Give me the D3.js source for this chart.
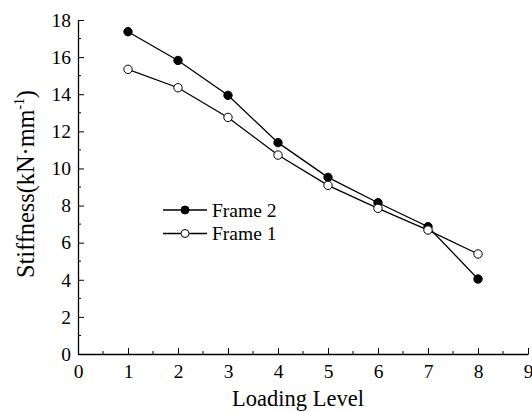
<!DOCTYPE html>
<html>
<head>
<meta charset="utf-8">
<script src="https://cdn.jsdelivr.net/npm/d3@7"></script>
<style>
  html, body { margin: 0; padding: 0; background: #fff; }
  svg { display: block; }
  text { font-family: "Liberation Serif", "Times New Roman", serif; fill: #000; }
</style>
</head>
<body>
<svg id="chart" width="532" height="412"></svg>
<script>
// Loading levels and stiffness values (kN·mm^-1)
const levels = [1, 2, 3, 4, 5, 6, 7, 8];
const frame2 = [17.37, 15.82, 13.94, 11.39, 9.52, 8.15, 6.86, 4.04];
const frame1 = [15.34, 14.35, 12.75, 10.72, 9.09, 7.85, 6.68, 5.39];
const xTicks = [0, 1, 2, 3, 4, 5, 6, 7, 8, 9];
const yTicks = [0, 2, 4, 6, 8, 10, 12, 14, 16, 18];
const seriesNames = ["Frame 2", "Frame 1"];

const svg = d3.select("#chart");
const plotLeft = 78, plotRight = 528, plotTop = 20, plotBottom = 354;

const x = d3.scaleLinear().domain([0, 9]).range([plotLeft, plotRight]);
const y = d3.scaleLinear().domain([0, 18]).range([plotBottom, plotTop]);

// Axes with inward ticks
const xAxis = d3.axisBottom(x).tickValues(xTicks).tickSize(-6).tickPadding(10).tickSizeOuter(0);
const yAxis = d3.axisLeft(y).tickValues(yTicks).tickSize(-6).tickPadding(7).tickSizeOuter(0);

const gx = svg.append("g").attr("transform", `translate(0,${plotBottom})`).call(xAxis);
const gy = svg.append("g").attr("transform", `translate(${plotLeft},0)`).call(yAxis);

// minor ticks
const xMinor = d3.range(0.5, 9, 1);
const yMinor = d3.range(1, 18, 2);
svg.append("g").selectAll("line").data(xMinor).join("line")
  .attr("x1", d => x(d)).attr("x2", d => x(d))
  .attr("y1", plotBottom).attr("y2", plotBottom - 3)
  .attr("stroke", "#000").attr("stroke-width", 1);
svg.append("g").selectAll("line").data(yMinor).join("line")
  .attr("x1", plotLeft).attr("x2", plotLeft + 3)
  .attr("y1", d => y(d)).attr("y2", d => y(d))
  .attr("stroke", "#000").attr("stroke-width", 1);

[gx, gy].forEach(g => {
  g.attr("font-family", null);
  g.select(".domain").attr("stroke", "#000").attr("stroke-width", 1.3);
  g.selectAll(".tick line").attr("stroke", "#000").attr("stroke-width", 1);
  g.selectAll(".tick text")
    .style("font-family", "'Liberation Serif', serif")
    .style("font-size", "19.5px").attr("fill", "#000");
});

// Axis titles
svg.append("text")
  .attr("x", 298).attr("y", 406)
  .attr("text-anchor", "middle")
  .style("font-size", "22.5px")
  .text("Loading Level");

const yt = svg.append("text")
  .attr("text-anchor", "middle")
  .style("font-size", "25px");
yt.append("tspan").text("Stiffness(kN·mm");
yt.append("tspan").attr("dy", -10).style("font-size", "14px").text("-1");
yt.append("tspan").attr("dy", 10).text(")");
// fit the rotated title to the axis span
const ytLen = yt.node().getComputedTextLength();
const ytScale = 188 / ytLen;
yt.attr("transform", `translate(34,184) rotate(-90) scale(${ytScale},1)`);

// Series
const line = d3.line().x((d, i) => x(levels[i])).y(d => y(d));
const series = [
  { name: seriesNames[0], values: frame2, fill: "#000" },
  { name: seriesNames[1], values: frame1, fill: "#fff" }
];

series.forEach(s => {
  svg.append("path").datum(s.values)
    .attr("d", line).attr("fill", "none")
    .attr("stroke", "#000").attr("stroke-width", 1.3);
  svg.append("g").selectAll("circle").data(s.values).join("circle")
    .attr("cx", (d, i) => x(levels[i])).attr("cy", d => y(d))
    .attr("r", 4.2)
    .attr("fill", s.fill).attr("stroke", "#000").attr("stroke-width", 1);
});

// Legend
const legend = svg.append("g");
series.forEach((s, i) => {
  const ly = 210 + i * 23.5;
  legend.append("line").attr("x1", 163).attr("x2", 207).attr("y1", ly).attr("y2", ly)
    .attr("stroke", "#000").attr("stroke-width", 1.3);
  legend.append("circle").attr("cx", 185).attr("cy", ly).attr("r", 4)
    .attr("fill", s.fill).attr("stroke", "#000").attr("stroke-width", 1);
  legend.append("text").attr("x", 212).attr("y", ly + 6.8)
    .style("font-size", "19.5px").text(s.name);
});
</script>
</body>
</html>
